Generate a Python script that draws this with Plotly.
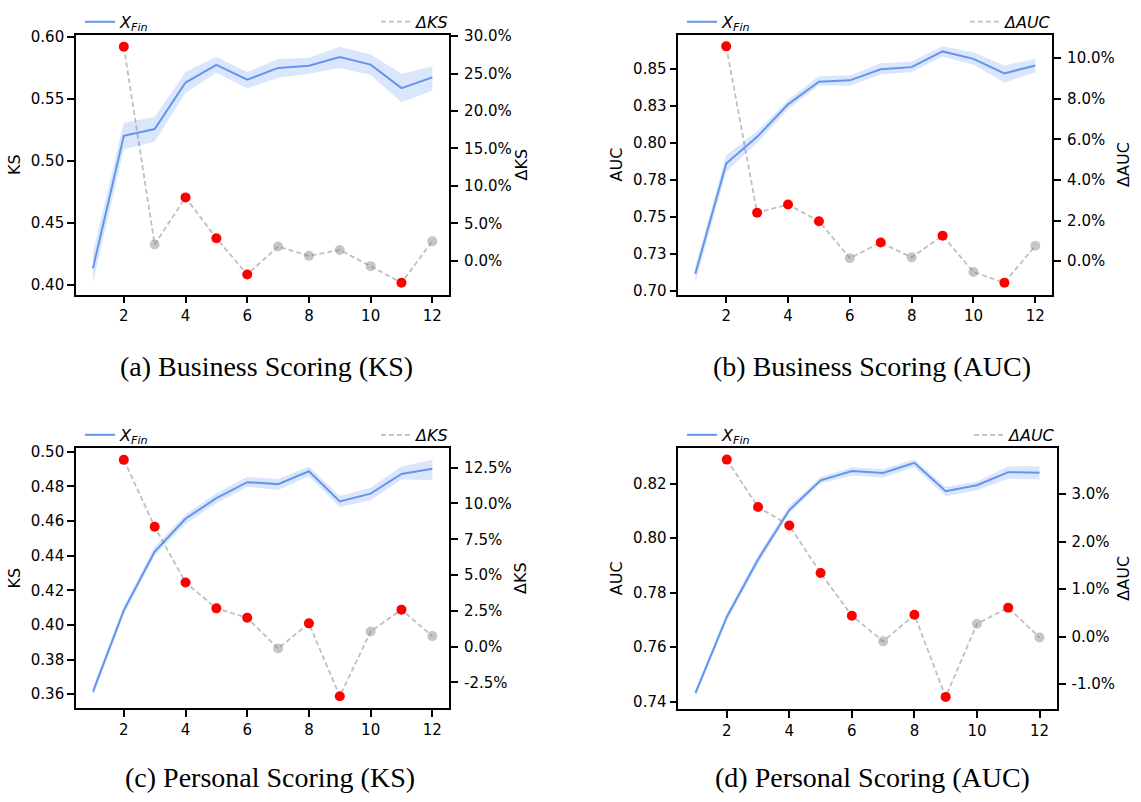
import plotly.graph_objects as go

# Number of selected features (x axis) and the steps at which a delta is defined
steps = list(range(1, 13))
delta_steps = list(range(2, 13))

# (a) Business scoring, KS
biz_ks_mean = [0.4137, 0.5203, 0.5258, 0.5632, 0.5774, 0.5655, 0.5750, 0.5768, 0.5837, 0.5776, 0.5587, 0.5674]
biz_ks_lo = [0.4020, 0.5092, 0.5158, 0.5548, 0.5711, 0.5584, 0.5671, 0.5703, 0.5750, 0.5692, 0.5474, 0.5566]
biz_ks_hi = [0.4263, 0.5308, 0.5355, 0.5716, 0.5839, 0.5716, 0.5821, 0.5832, 0.5921, 0.5858, 0.5703, 0.5761]
biz_ks_delta = [0.2860, 0.0218, 0.0847, 0.0301, -0.0183, 0.0191, 0.0066, 0.0144, -0.0071, -0.0293, 0.0262]
biz_ks_sig = [1, 0, 1, 1, 1, 0, 0, 0, 0, 1, 0]

# (b) Business scoring, AUC
biz_auc_mean = [0.7117, 0.7861, 0.8041, 0.8260, 0.8413, 0.8422, 0.8497, 0.8511, 0.8617, 0.8567, 0.8469, 0.8522]
biz_auc_lo = [0.7057, 0.7805, 0.8001, 0.8227, 0.8389, 0.8384, 0.8462, 0.8478, 0.8582, 0.8527, 0.8407, 0.8475]
biz_auc_hi = [0.7168, 0.7916, 0.8078, 0.8289, 0.8451, 0.8455, 0.8538, 0.8549, 0.8651, 0.8611, 0.8522, 0.8567]
biz_auc_delta = [0.1058, 0.0239, 0.0279, 0.0197, 0.0015, 0.0092, 0.0019, 0.0126, -0.0053, -0.0106, 0.0076]
biz_auc_sig = [1, 1, 1, 1, 0, 1, 0, 1, 0, 1, 0]

# (c) Personal scoring, KS
per_ks_mean = [0.3615, 0.4084, 0.4424, 0.4613, 0.4732, 0.4824, 0.4813, 0.4887, 0.4713, 0.4758, 0.4872, 0.4902]
per_ks_lo = [0.3588, 0.4060, 0.4401, 0.4584, 0.4703, 0.4798, 0.4779, 0.4858, 0.4679, 0.4720, 0.4839, 0.4836]
per_ks_hi = [0.3640, 0.4110, 0.4452, 0.4637, 0.4760, 0.4855, 0.4843, 0.4915, 0.4745, 0.4792, 0.4915, 0.4953]
per_ks_delta = [0.1305, 0.0837, 0.0448, 0.0267, 0.0201, -0.0014, 0.0162, -0.0348, 0.0105, 0.0258, 0.0073]
per_ks_sig = [1, 1, 1, 1, 1, 0, 1, 1, 0, 1, 0]

# (d) Personal scoring, AUC
per_auc_mean = [0.7433, 0.7711, 0.7922, 0.8103, 0.8212, 0.8246, 0.8239, 0.8276, 0.8172, 0.8194, 0.8242, 0.8240]
per_auc_lo = [0.7418, 0.7696, 0.7906, 0.8091, 0.8200, 0.8230, 0.8222, 0.8260, 0.8154, 0.8176, 0.8218, 0.8215]
per_auc_hi = [0.7445, 0.7725, 0.7937, 0.8119, 0.8224, 0.8260, 0.8254, 0.8288, 0.8188, 0.8208, 0.8263, 0.8264]
per_auc_delta = [0.0373, 0.0273, 0.0234, 0.0134, 0.0044, -0.0010, 0.0046, -0.0127, 0.0027, 0.0061, -0.0002]
per_auc_sig = [1, 1, 1, 1, 1, 0, 1, 1, 0, 1, 0]

# Tick positions and labels
x_ticks = [2, 4, 6, 8, 10, 12]
biz_ks_yticks = [0.40, 0.45, 0.50, 0.55, 0.60]
biz_auc_yticks = [0.700, 0.725, 0.750, 0.775, 0.800, 0.825, 0.850]
biz_auc_yticktext = ["0.70", "0.73", "0.75", "0.78", "0.80", "0.83", "0.85"]
per_ks_yticks = [0.36, 0.38, 0.40, 0.42, 0.44, 0.46, 0.48, 0.50]
per_auc_yticks = [0.74, 0.76, 0.78, 0.80, 0.82]
biz_ks_dticks = [0.00, 0.05, 0.10, 0.15, 0.20, 0.25, 0.30]
biz_auc_dticks = [0.00, 0.02, 0.04, 0.06, 0.08, 0.10]
per_ks_dticks = [-0.025, 0.0, 0.025, 0.05, 0.075, 0.10, 0.125]
per_auc_dticks = [-0.01, 0.0, 0.01, 0.02, 0.03]

captions = ["(a) Business Scoring (KS)", "(b) Business Scoring (AUC)",
            "(c) Personal Scoring (KS)", "(d) Personal Scoring (AUC)"]

BLUE = "#6495ED"
BAND = "rgba(100,149,237,0.24)"
DASH_GRAY = "rgba(128,128,128,0.5)"
DOT_GRAY = "rgba(128,128,128,0.45)"
RED = "#FF0000"
TICK_FONT = dict(family="DejaVu Sans", size=15, color="black")
W, H = 1141, 802

panels = [
    dict(metric="KS", mean=biz_ks_mean, lo=biz_ks_lo, hi=biz_ks_hi, delta=biz_ks_delta, sig=biz_ks_sig,
         yticks=biz_ks_yticks, yticktext=None, dticks=biz_ks_dticks,
         box=(76, 449.3, 28.3, 292.3), leg_l=(80, 15), leg_r=(455, 15), cap=(266.5, 365)),
    dict(metric="AUC", mean=biz_auc_mean, lo=biz_auc_lo, hi=biz_auc_hi, delta=biz_auc_delta, sig=biz_auc_sig,
         yticks=biz_auc_yticks, yticktext=biz_auc_yticktext, dticks=biz_auc_dticks,
         box=(678.3, 1052.3, 28.0, 292.3), leg_l=(682, 15), leg_r=(1058, 15), cap=(872, 365)),
    dict(metric="KS", mean=per_ks_mean, lo=per_ks_lo, hi=per_ks_hi, delta=per_ks_delta, sig=per_ks_sig,
         yticks=per_ks_yticks, yticktext=None, dticks=per_ks_dticks,
         box=(76, 449.3, 448.3, 712.7), leg_l=(80, 435), leg_r=(455, 435), cap=(269.5, 783)),
    dict(metric="AUC", mean=per_auc_mean, lo=per_auc_lo, hi=per_auc_hi, delta=per_auc_delta, sig=per_auc_sig,
         yticks=per_auc_yticks, yticktext=None, dticks=per_auc_dticks,
         box=(678.3, 1056.7, 448.0, 713.3), leg_l=(682, 435), leg_r=(1062, 435), cap=(872.5, 783)),
]


def padded(lo_vals, hi_vals):
    lo, hi = min(lo_vals), max(hi_vals)
    pad = 0.05 * (hi - lo)
    return [lo - pad, hi + pad]


def pct_labels(vals):
    # plain hyphen-minus for negative percentages
    return [f"{v * 100:.1f}%" for v in vals]


fig = go.Figure()
layout = dict(width=W, height=H, autosize=False, margin=dict(l=0, r=0, t=0, b=0),
              paper_bgcolor="white", plot_bgcolor="white", showlegend=True,
              font=dict(family="DejaVu Sans", size=15, color="black"), annotations=[])

for i, p in enumerate(panels, start=1):
    xa = "x" if i == 1 else f"x{i}"
    yl_n, yr_n = 2 * i - 1, 2 * i
    yl = "y" if yl_n == 1 else f"y{yl_n}"
    yr = f"y{yr_n}"
    leg_l = "legend" if i == 1 else f"legend{2 * i - 1}"
    leg_r = f"legend{2 * i}"

    # confidence band around the mean curve
    fig.add_trace(go.Scatter(x=steps, y=p["hi"], xaxis=xa, yaxis=yl, mode="lines",
                             line=dict(width=0, color=BLUE), showlegend=False, hoverinfo="skip"))
    fig.add_trace(go.Scatter(x=steps, y=p["lo"], xaxis=xa, yaxis=yl, mode="lines", fill="tonexty",
                             fillcolor=BAND, line=dict(width=0, color=BLUE), showlegend=False,
                             hoverinfo="skip"))
    # mean curve
    fig.add_trace(go.Scatter(x=steps, y=p["mean"], xaxis=xa, yaxis=yl, mode="lines",
                             line=dict(color=BLUE, width=2), name="<i>X</i><sub><i>Fin</i></sub>",
                             legend=leg_l))
    # relative change, dashed connector plus markers
    fig.add_trace(go.Scatter(x=delta_steps, y=p["delta"], xaxis=xa, yaxis=yr, mode="lines",
                             line=dict(color=DASH_GRAY, width=1.8, dash="5px,3px"),
                             name=f"<i>Δ{p['metric']}</i>", legend=leg_r))
    fig.add_trace(go.Scatter(x=delta_steps, y=p["delta"], xaxis=xa, yaxis=yr, mode="markers",
                             marker=dict(size=10, color=[RED if s else DOT_GRAY for s in p["sig"]],
                                         line=dict(width=0)),
                             showlegend=False))

    x0, x1, t, b = p["box"]
    xdom = [x0 / W, x1 / W]
    ydom = [1 - b / H, 1 - t / H]
    axis_common = dict(showline=True, linewidth=1.6, linecolor="black", ticks="outside",
                       ticklen=7, tickwidth=1.5, tickcolor="black", showgrid=False,
                       zeroline=False, tickfont=TICK_FONT)
    layout["xaxis" if i == 1 else f"xaxis{i}"] = dict(
        domain=xdom, anchor=yl, range=[0.45, 12.55], tickvals=x_ticks, mirror=True, **axis_common)
    ly = dict(domain=ydom, anchor=xa, range=padded(p["lo"], p["hi"]), tickvals=p["yticks"],
              mirror=True, title=dict(text=p["metric"], font=dict(size=16), standoff=6),
              **axis_common)
    if p["yticktext"]:
        ly["ticktext"] = p["yticktext"]
    else:
        ly["tickformat"] = ".2f"
    layout["yaxis" if yl_n == 1 else f"yaxis{yl_n}"] = ly
    layout[f"yaxis{yr_n}"] = dict(
        overlaying=yl, side="right", anchor=xa, range=padded(p["delta"], p["delta"]),
        tickvals=p["dticks"], ticktext=pct_labels(p["dticks"]), ticklabelstandoff=3,
        title=dict(text=f"Δ{p['metric']}", font=dict(size=16), standoff=4), **axis_common)

    legend_common = dict(bgcolor="rgba(0,0,0,0)", borderwidth=0, itemwidth=30,
                         font=dict(family="DejaVu Sans", size=16, color="black"),
                         yanchor="middle", orientation="h")
    layout[leg_l] = dict(x=p["leg_l"][0] / W, y=1 - p["leg_l"][1] / H, xanchor="left", **legend_common)
    layout[leg_r] = dict(x=p["leg_r"][0] / W, y=1 - p["leg_r"][1] / H, xanchor="right", **legend_common)

    layout["annotations"].append(dict(
        text=captions[i - 1], xref="paper", yref="paper", x=p["cap"][0] / W, y=1 - p["cap"][1] / H,
        xanchor="center", yanchor="middle", showarrow=False,
        font=dict(family="Liberation Serif", size=28, color="black")))

fig.update_layout(**layout)
fig.write_html("out.html")
